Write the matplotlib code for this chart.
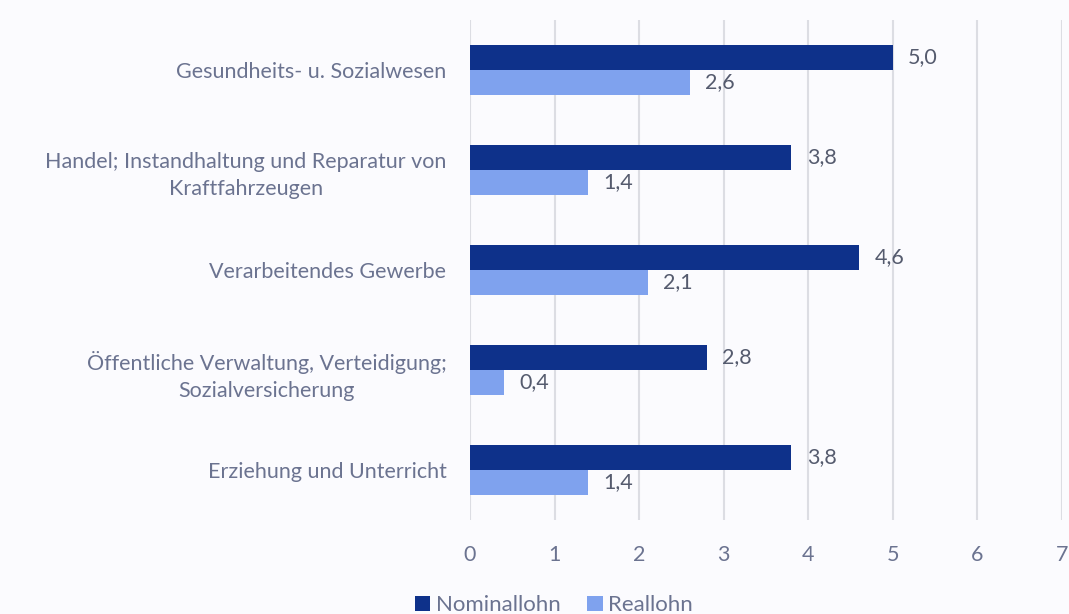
import matplotlib.pyplot as plt
import numpy as np

# Daten
kategorien = [
    "Gesundheits- u. Sozialwesen",
    "Handel; Instandhaltung und Reparatur von\nKraftfahrzeugen",
    "Verarbeitendes Gewerbe",
    "Öffentliche Verwaltung, Verteidigung;\nSozialversicherung",
    "Erziehung und Unterricht",
]
nominallohn = [5.0, 3.8, 4.6, 2.8, 3.8]
reallohn = [2.6, 1.4, 2.1, 0.4, 1.4]

bg = "#fbfbfe"
text_col = "#6b7390"
val_col = "#555b6e"
dunkel = "#0e318a"
hell = "#7fa2ee"

plt.rcParams["font.family"] = ["Lato", "DejaVu Sans"]
fs = 15.5

fig = plt.figure(figsize=(10.69, 6.14), dpi=100, facecolor=bg)
ax = fig.add_axes([0.4397, 0.1531, 0.5537, 0.8143], facecolor=bg)

y = np.arange(len(kategorien))
h = 0.25
b1 = ax.barh(y - h / 2, nominallohn, height=h, color=dunkel, label="Nominallohn", zorder=3)
b2 = ax.barh(y + h / 2, reallohn, height=h, color=hell, label="Reallohn", zorder=3)

for bars, vals in ((b1, nominallohn), (b2, reallohn)):
    for bar, v in zip(bars, vals):
        ax.annotate(f"{v:.1f}".replace(".", ","),
                    xy=(bar.get_width(), bar.get_y() + bar.get_height() / 2),
                    xytext=(11, 0), textcoords="offset points",
                    ha="left", va="center", fontsize=fs, color=val_col)

ax.set_ylim(len(kategorien) - 0.5, -0.5)
ax.set_xlim(0, 7)
ax.set_xticks(range(8))
ax.set_yticks(y)
ax.set_yticklabels(kategorien, fontsize=fs, color=text_col, linespacing=1.45,
                   multialignment="center")
ax.tick_params(axis="y", length=0, pad=17)
ax.tick_params(axis="x", length=0, pad=18, labelsize=fs, labelcolor=text_col)

ax.grid(axis="x", color="#dcdde3", linewidth=1.5, zorder=0)
for s in ax.spines.values():
    s.set_visible(False)

fig.legend(handles=[b1, b2], loc="lower center", bbox_to_anchor=(0.518, -0.035),
           ncol=2, frameon=False, fontsize=16, labelcolor=text_col,
           handlelength=0.7, handleheight=0.7, handletextpad=0.25, columnspacing=1.2)

fig.savefig("out.png", dpi=100, facecolor=bg)
